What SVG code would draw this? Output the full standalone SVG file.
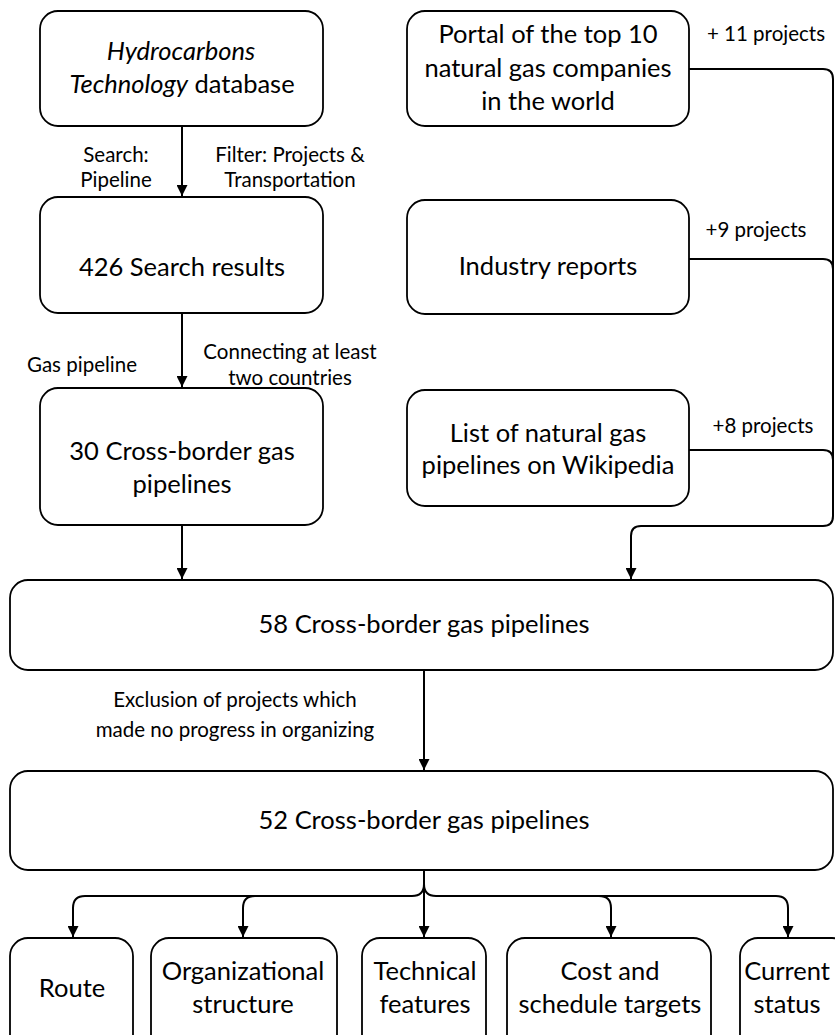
<svg xmlns="http://www.w3.org/2000/svg" width="835" height="1035" viewBox="0 0 835 1035">
  <style>
    .box { fill: #fff; stroke: #000; stroke-width: 1.8; }
    .t { font-family: Lato, "Liberation Sans", sans-serif; font-size: 25.5px; fill: #000; text-anchor: middle; }
    .s { font-family: Lato, "Liberation Sans", sans-serif; font-size: 20.5px; fill: #000; text-anchor: middle; }
    .c { fill: none; stroke: #000; stroke-width: 2; }
  </style>
  <defs>
    <marker id="arr" viewBox="0 0 10 10" refX="10" refY="5" markerWidth="5.5" markerHeight="5.5" orient="auto" markerUnits="strokeWidth">
      <path d="M0,0 L10,5 L0,10 Z" fill="#000"/>
    </marker>
  </defs>

  <!-- connectors and their labels -->
  <g id="connectors">
    <path class="c" d="M182,126 V196" marker-end="url(#arr)"/>
    <path class="c" d="M182,313 V387" marker-end="url(#arr)"/>
    <path class="c" d="M182,525 V579" marker-end="url(#arr)"/>
    <path class="c" d="M689,69 H823 Q833,69 833,79 V516 Q833,526 823,526 H641 Q631,526 631,536 V579" marker-end="url(#arr)"/>
    <path class="c" d="M689,259 H823 Q833,259 833,269"/>
    <path class="c" d="M689,450 H823 Q833,450 833,460"/>
    <path class="c" d="M424,670 V770" marker-end="url(#arr)"/>
    <path class="c" d="M424,870 V937" marker-end="url(#arr)"/>
    <path class="c" d="M424,884 Q424,896 412,896 H85 Q73,896 73,908 V937" marker-end="url(#arr)"/>
    <path class="c" d="M255,896 Q243,896 243,908 V937" marker-end="url(#arr)"/>
    <path class="c" d="M424,884 Q424,896 436,896 H776 Q788,896 788,908 V937" marker-end="url(#arr)"/>
    <path class="c" d="M599,896 Q611,896 611,908 V937" marker-end="url(#arr)"/>
    <text class="s" x="116" y="162">Search:</text>
    <text class="s" x="116" y="187">Pipeline</text>
    <text class="s" x="290" y="162">Filter: Projects &amp;</text>
    <text class="s" x="290" y="187">Transportation</text>
    <text class="s" x="82" y="372">Gas pipeline</text>
    <text class="s" x="290" y="359">Connecting at least</text>
    <text class="s" x="290" y="385">two countries</text>
    <text class="s" x="766" y="41">+ 11 projects</text>
    <text class="s" x="756" y="237">+9 projects</text>
    <text class="s" x="763" y="433">+8 projects</text>
    <text class="s" x="235" y="707">Exclusion of projects which</text>
    <text class="s" x="235" y="737">made no progress in organizing</text>
  </g>

  <g id="hydrocarbons">
    <rect class="box" x="40" y="11" width="283" height="115" rx="18"/>
    <text class="t" x="181" y="60" font-style="italic">Hydrocarbons</text>
    <text class="t" x="182" y="93"><tspan font-style="italic">Technology</tspan> database</text>
  </g>
  <g id="search-results">
    <rect class="box" x="40" y="197" width="283" height="116" rx="18"/>
    <text class="t" x="182" y="276">426 Search results</text>
  </g>
  <g id="cross-border-30">
    <rect class="box" x="40" y="388" width="283" height="137" rx="18"/>
    <text class="t" x="182" y="460">30 Cross-border gas</text>
    <text class="t" x="182" y="493">pipelines</text>
  </g>
  <g id="portal">
    <rect class="box" x="407" y="11" width="282" height="115" rx="18"/>
    <text class="t" x="548" y="43">Portal of the top 10</text>
    <text class="t" x="548" y="77">natural gas companies</text>
    <text class="t" x="548" y="110">in the world</text>
  </g>
  <g id="industry-reports">
    <rect class="box" x="407" y="200" width="282" height="114" rx="18"/>
    <text class="t" x="548" y="275">Industry reports</text>
  </g>
  <g id="wikipedia">
    <rect class="box" x="407" y="390" width="282" height="116" rx="18"/>
    <text class="t" x="548" y="442">List of natural gas</text>
    <text class="t" x="548" y="474">pipelines on Wikipedia</text>
  </g>
  <g id="cross-border-58">
    <rect class="box" x="10" y="580" width="823" height="90" rx="18"/>
    <text class="t" x="424" y="633">58 Cross-border gas pipelines</text>
  </g>
  <g id="cross-border-52">
    <rect class="box" x="10" y="771" width="823" height="99" rx="18"/>
    <text class="t" x="424" y="829">52 Cross-border gas pipelines</text>
  </g>
  <g id="route">
    <rect class="box" x="10" y="938" width="123" height="120" rx="18"/>
    <text class="t" x="72" y="997">Route</text>
  </g>
  <g id="organizational-structure">
    <rect class="box" x="151" y="938" width="186" height="120" rx="18"/>
    <text class="t" x="243" y="980">Organizational</text>
    <text class="t" x="243" y="1013">structure</text>
  </g>
  <g id="technical-features">
    <rect class="box" x="362" y="938" width="124" height="120" rx="18"/>
    <text class="t" x="425" y="980">Technical</text>
    <text class="t" x="425" y="1013">features</text>
  </g>
  <g id="cost-schedule">
    <rect class="box" x="507" y="938" width="204" height="120" rx="18"/>
    <text class="t" x="610" y="980">Cost and</text>
    <text class="t" x="610" y="1013">schedule targets</text>
  </g>
  <g id="current-status">
    <rect class="box" x="740" y="938" width="110" height="120" rx="18"/>
    <text class="t" x="787" y="980">Current</text>
    <text class="t" x="787" y="1013">status</text>
  </g>
</svg>
